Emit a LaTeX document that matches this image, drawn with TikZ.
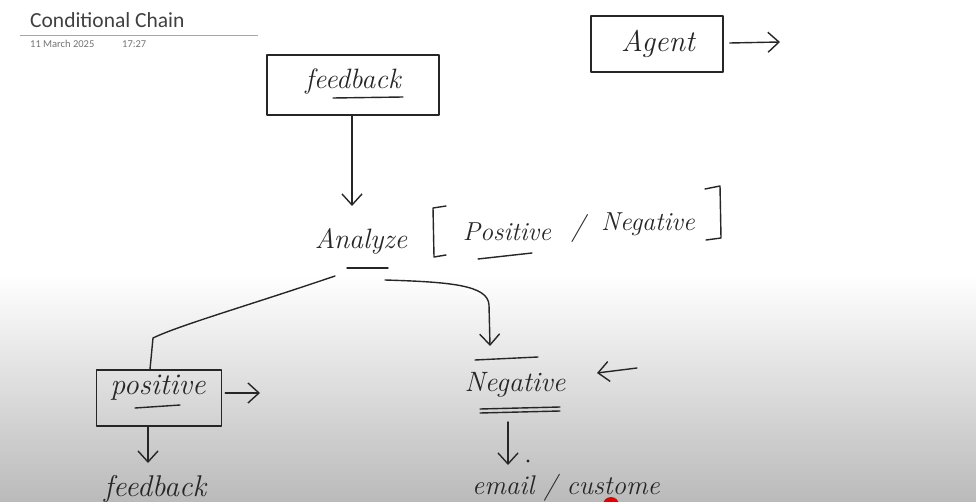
\documentclass[tikz,border=0pt]{standalone}
\usepackage{fontspec}
\newfontfamily\uifont{Carlito}
\usetikzlibrary{arrows.meta}
\begin{document}
\begin{tikzpicture}[x=1pt,y=-1pt,
  ink/.style={line width=1.4pt, draw=black!85, line cap=round, line join=round},
  hand/.style={font=\fontsize{#1}{#1}\selectfont\itshape, text=black!85, inner sep=0pt},
  hbox/.style={ink, draw, rectangle, inner sep=0pt},
  arr/.style={ink, -{Straight Barb[length=11pt,width=20pt,line width=1.4pt]}}]
\fill[white] (0,0) rectangle (976,502);
\shade[top color=white, bottom color=black!27] (0,275) rectangle (976,502);
\useasboundingbox (0,0) rectangle (976,502);

% header
\node[anchor=base west, font=\uifont\fontsize{21.5}{22}\selectfont, text=black!75, inner sep=0pt] (title) at (30,28) {Conditional Chain};
\draw[black!35, line width=0.8pt] (20,35) -- (258,35);
\node[anchor=base west, font=\uifont\fontsize{10.5}{11}\selectfont, text=black!55, inner sep=0pt] (date) at (30,48) {11 March 2025};
\node[anchor=base west, font=\uifont\fontsize{10.5}{11}\selectfont, text=black!55, inner sep=0pt] (time) at (122,48) {17:27};

% feedback box
\node[hbox, minimum width=172pt, minimum height=60pt] (fbbox) at (353,85) {};
\node[hand=28] (fb) at (353,82) {feedback};
\draw[ink] (333,98) -- (403,97);

% agent box
\node[hbox, minimum width=132pt, minimum height=56pt] (agbox) at (657,44) {};
\node[hand=30] (ag) at (658,44) {Agent};
\coordinate (agout) at (780,42);
\draw[arr] (agbox.east) ++(6,-1) -- (agout);

% analyze line
\node[hand=28] (anz) at (361,241) {Analyze};
\node[hand=26] (posw) at (507,232) {Positive};
\node[hand=28] (sl) at (578,229) {/};
\node[hand=26] (negw) at (648,224) {Negative};
\draw[ink] (446,206) -- (433,208) -- (434,257) -- (446,255);
\draw[ink] (705,189) -- (720,186) -- (721,238) -- (706,240);
\draw[ink] (478,259) -- (532,253);
\draw[ink] (347,268) -- (388,268);
\coordinate (anztop) at (352,206);
\draw[arr] (fbbox.south -| anztop) -- (anztop);

% positive branch
\node[hbox, minimum width=125pt, minimum height=56pt] (pbox) at (159,398) {};
\node[hand=30] (pos) at (158,388) {positive};
\draw[ink] (135,408) -- (180,405);
\coordinate (lsplit) at (335,276);
\draw[ink] (lsplit) .. controls (250,305) and (180,325) .. (153,338) -- (pbox.north -| 150,0);
\coordinate (pout) at (260,393);
\draw[arr] (pbox.east) ++(3,-5) -- (pout);
\node[hand=30] (fb2) at (155,489) {feedback};
\coordinate (fb2top) at (148,463);
\draw[arr] (pbox.south -| fb2top) -- (fb2top);

% negative branch
\coordinate (rsplit) at (385,280);
\coordinate (negtop) at (490,346);
\draw[arr] (rsplit) .. controls (450,282) and (488,285) .. (489,305) -- (negtop);
\draw[ink] (475,360) -- (538,357);
\node[hand=28] (neg) at (515,385) {Negative};
\draw[ink] (480,409) -- (560,407);
\draw[ink] (480,413) -- (560,411);
\coordinate (nin) at (637,368);
\draw[arr] (nin) -- (597,373);
\node[hand=27] (email) at (566,488) {email / custome};
\coordinate (emtop) at (508,465);
\draw[arr] (508,422) -- (emtop);
\fill[black!85] (528,461) circle (1.6pt);

% pointer dot
\begin{scope}
\clip (0,0) rectangle (976,502);
\fill[red!90!black] (611,505) circle (8pt);
\end{scope}
\end{tikzpicture}
\end{document}
